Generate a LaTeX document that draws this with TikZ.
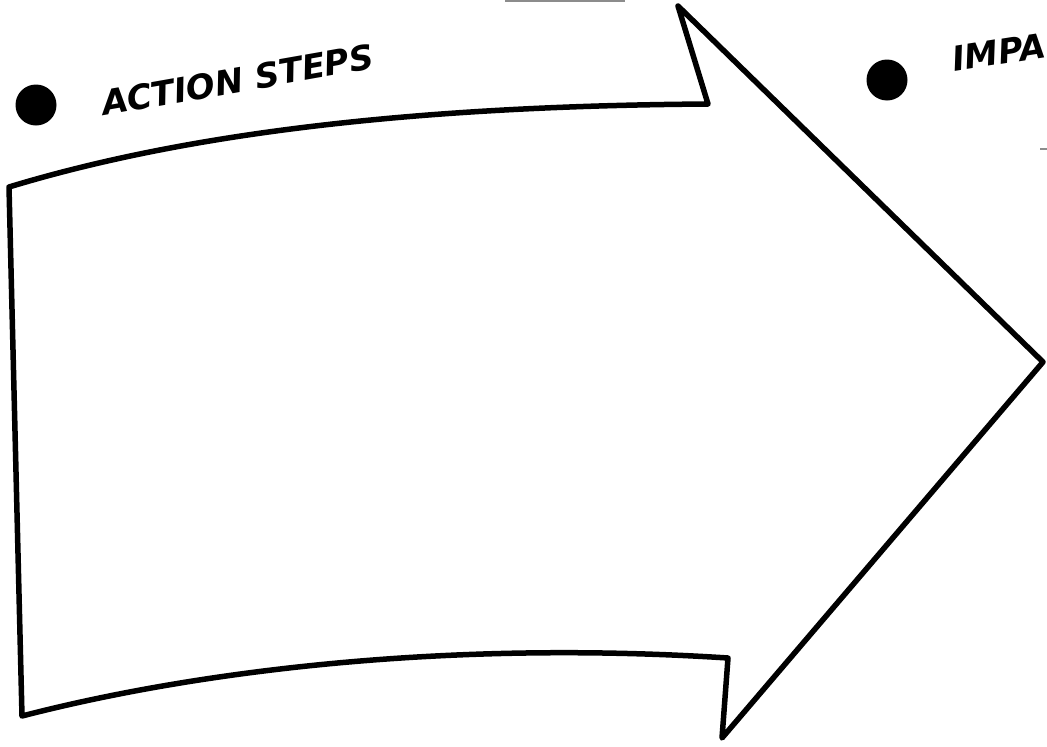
\documentclass[tikz,border=0pt]{standalone}
\usepackage{fontspec}
\newfontfamily\handfont{DejaVu Sans}[BoldFont={DejaVu Sans Bold}, ItalicFont={DejaVu Sans Oblique}, BoldItalicFont={DejaVu Sans Bold Oblique}]
\tikzset{
  outline/.style={draw=black, line width=5.5pt, line join=round, fill=white},
  bullet/.style={circle, fill=black, inner sep=0pt, minimum size=41pt},
  label/.style={font=\handfont\fontsize{34}{34}\selectfont\bfseries\itshape, inner sep=0pt, anchor=base west},
  speck/.style={draw=black!45, line width=1.5pt}
}
\begin{document}
\begin{tikzpicture}[x=1pt, y=-1pt]
\useasboundingbox (0,0) rectangle (1047,747);
% arrow outline
\coordinate (tl) at (9,187);
\coordinate (ts) at (708,104);
\coordinate (tt) at (678,6);
\coordinate (tip) at (1043,362);
\coordinate (bt) at (722,738);
\coordinate (bs) at (728,658);
\coordinate (bl) at (22,716);
\draw[outline] (tl) .. controls (190,132) and (420,106) .. (ts) -- (tt) -- (tip) -- (bt) -- (bs)
  .. controls (450,640) and (200,670) .. (bl) -- cycle;
% bullets
\node[bullet] (b1) at (36,105) {};
\node[bullet] (b2) at (887,80) {};
% labels
\node[label, rotate=10] (t1) at (104,116) {ACTION STEPS};
\node[label, rotate=9] (t2) at (954,72) {IMPA};
% small marks
\coordinate (m1) at (505,0.8);
\coordinate (m2) at (625,0.8);
\draw[speck] (m1) -- (m2);
\coordinate (m3) at (1040,149);
\coordinate (m4) at (1047,149);
\draw[speck] (m3) -- (m4);
\end{tikzpicture}
\end{document}
